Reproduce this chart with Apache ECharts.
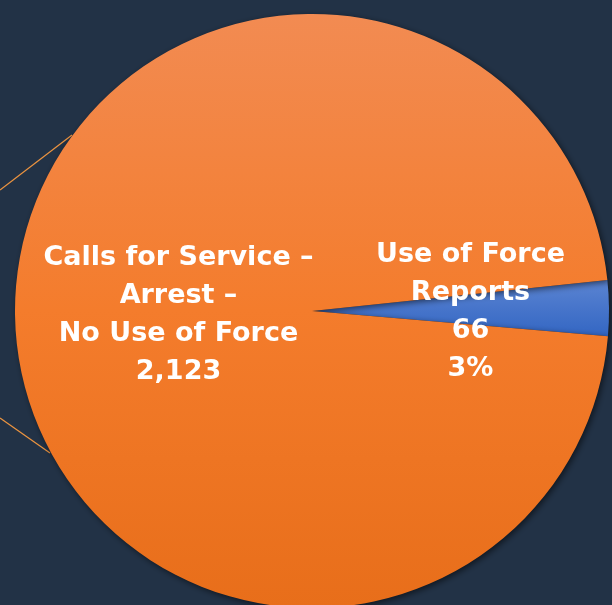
<!DOCTYPE html>
<html lang="en">
<head>
	<meta charset="UTF-8">
	<title>Arrests and Use of Force</title>
	<style>
	body, div {
		margin: 0;
		padding: 0;
	}
	body {
		background: #223246;
	}
	.echart {
		width: 612px;
		height: 605px;
	}
	</style>
</head>
<body>
	<div id="echart" class="echart"></div>

	<script src="https://cdn.jsdelivr.net/npm/echarts@6/dist/echarts.min.js"></script>
	<script>

	// data
	var categories = ['Use of Force Reports', 'Calls for Service – Arrest – No Use of Force'];
	var labelNames = ['Use of Force\nReports', 'Calls for Service –\nArrest –\nNo Use of Force'];
	var values = [66, 2123];
	var showPercent = [true, false];

	var total = values.reduce(function(a, b) { return a + b; }, 0);

	function fmt(n) {
		return n.toString().replace(/\B(?=(\d{3})+(?!\d))/g, ',');
	}

	var sliceColors = [
		new echarts.graphic.LinearGradient(0, 0, 0, 1, [
			{offset: 0, color: '#5b84d2'},
			{offset: 1, color: '#3366c3'}
		]),
		new echarts.graphic.LinearGradient(0, 0, 0, 1, [
			{offset: 0, color: '#f28b52'},
			{offset: 0.5, color: '#f47c2c'},
			{offset: 1, color: '#e86e1a'}
		])
	];

	var pieData = [];
	for (var i = 0; i < values.length; i++) {
		pieData.push({
			name: categories[i],
			value: values[i],
			labelText: labelNames[i],
			itemStyle: {color: sliceColors[i]}
		});
	}

	// nudge labels to where the original sits
	var labelShift = [7, 18];

	var myEcharts = echarts.init(document.getElementById('echart'));

	myEcharts.setOption({
		backgroundColor: '#223246',
		animation: false,
		graphic: [
			{type: 'line', shape: {x1: 0, y1: 190, x2: 72, y2: 135}, style: {stroke: '#ec9440', lineWidth: 1.2}, z: 0},
			{type: 'line', shape: {x1: 0, y1: 418, x2: 50, y2: 453}, style: {stroke: '#ec9440', lineWidth: 1.2}, z: 0}
		],
		series: [{
			type: 'pie',
			center: [312, 311],
			radius: 297,
			startAngle: 6,
			clockwise: true,
			silent: true,
			itemStyle: {
				borderWidth: 0,
				shadowBlur: 6,
				shadowOffsetX: 2,
				shadowOffsetY: 2,
				shadowColor: 'rgba(0,0,0,0.55)'
			},
			label: {
				show: true,
				position: 'inside',
				color: '#ffffff',
				fontFamily: 'DejaVu Sans',
				fontWeight: 'bold',
				fontSize: 27,
				lineHeight: 38,
				align: 'center',
				formatter: function(p) {
					var s = p.data.labelText + '\n' + fmt(p.value);
					if (showPercent[p.dataIndex]) {
						s += '\n' + Math.round(p.value / total * 100) + '%';
					}
					return s;
				}
			},
			labelLine: {show: false},
			labelLayout: function(params) {
				return {dx: labelShift[params.dataIndex], dy: 2};
			},
			data: pieData
		}]
	});

	</script>
</body>
</html>
